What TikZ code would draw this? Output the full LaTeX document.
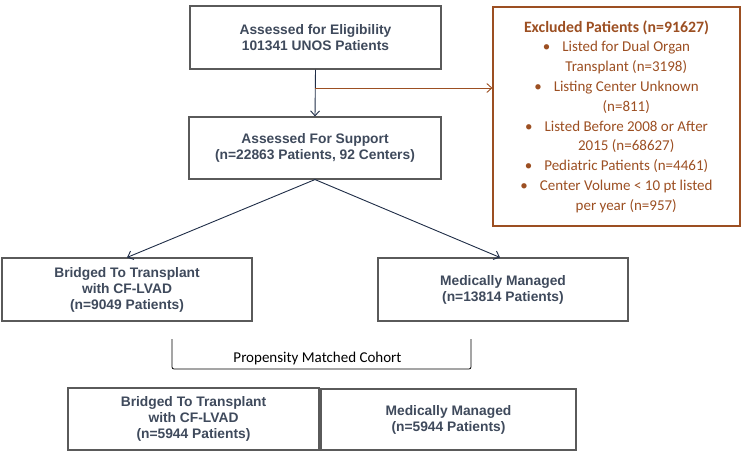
\documentclass[tikz,border=0pt]{standalone}
\usepackage{fontspec}
\setmainfont{Liberation Sans}
\newfontfamily\carlitofont{Carlito}
\usetikzlibrary{arrows.meta,calc}
\definecolor{slate}{HTML}{3F4A5C}
\definecolor{boxgray}{HTML}{5A5A5A}
\definecolor{navy}{HTML}{1F2D47}
\definecolor{rust}{HTML}{9C4F22}
\tikzset{
  box/.style={draw=boxgray, line width=1.1pt, fill=white, align=center, inner sep=0pt,
    font=\fontsize{13.8}{16}\selectfont\bfseries, text=slate},
  exbox/.style={draw=rust, line width=1.1pt, align=center, inner sep=0pt,
    font=\carlitofont\fontsize{15}{19.8}\selectfont, text=rust},
  arr/.style={draw=navy, line width=0.9pt, -{Straight Barb[length=5pt,width=9pt]}},
  oarr/.style={draw=rust, line width=0.9pt, -{Straight Barb[length=5pt,width=9pt]}},
  brk/.style={draw=black, line width=0.8pt, rounded corners=2pt},
  lbl/.style={font=\carlitofont\fontsize{15}{17}\selectfont, text=black, inner sep=0pt}
}
\newcommand{\bul}{\textbullet\hspace{0.8em}}
\newcommand{\cont}{\hphantom{\textbullet\hspace{0.8em}}}
\begin{document}
\begin{tikzpicture}[x=1pt,y=-1pt]
\useasboundingbox (0,0) rectangle (750,453);
\node[box, minimum width=251, minimum height=63] (top) at (315.5,37.5)
  {Assessed for Eligibility\\101341 UNOS Patients};
\node[box, minimum width=252, minimum height=62] (sup) at (315,148)
  {Assessed For Support\\(n=22863 Patients, 92 Centers)};
\node[exbox, minimum width=247, minimum height=219] (ex) at (616.5,116.5)
  {{\bfseries\fontsize{15.8}{19.8}\selectfont Excluded Patients (n=91627)}\\
   \bul Listed for Dual Organ\\
   \cont Transplant (n=3198)\\
   \bul Listing Center Unknown\\
   \cont (n=811)\\
   \bul Listed Before 2008 or After\\
   \cont 2015 (n=68627)\\
   \bul Pediatric Patients (n=4461)\\
   \bul Center Volume < 10 pt listed\\
   \cont per year (n=957)};
\node[box, minimum width=250, minimum height=63] (btt) at (127,289.5)
  {Bridged To Transplant\\with CF-LVAD\\(n=9049 Patients)};
\node[box, minimum width=250, minimum height=63] (mm) at (503,289.5)
  {Medically Managed\\(n=13814 Patients)};
\node[box, minimum width=251, minimum height=62] (btt2) at (193.5,419)
  {Bridged To Transplant\\with CF-LVAD\\(n=5944 Patients)};
\node[box, minimum width=255, minimum height=61] (mm2) at (448.5,419.5)
  {Medically Managed\\(n=5944 Patients)};
\coordinate (j) at (315,88);
\draw[arr] (top.south) -- (sup.north);
\draw[oarr] (j) -- (ex.west |- j);
\draw[arr] (sup.south) -- (btt.north);
\draw[arr] (sup.south) -- ($(mm.north)+(-3,0)$);
\coordinate (bl) at (172,339);
\coordinate (br) at (471,339);
\draw[brk] (bl) -- (172,369) -- (471,369) -- (br);
\node[lbl] (pm) at (317.5,358) {Propensity Matched Cohort};
\end{tikzpicture}
\end{document}
